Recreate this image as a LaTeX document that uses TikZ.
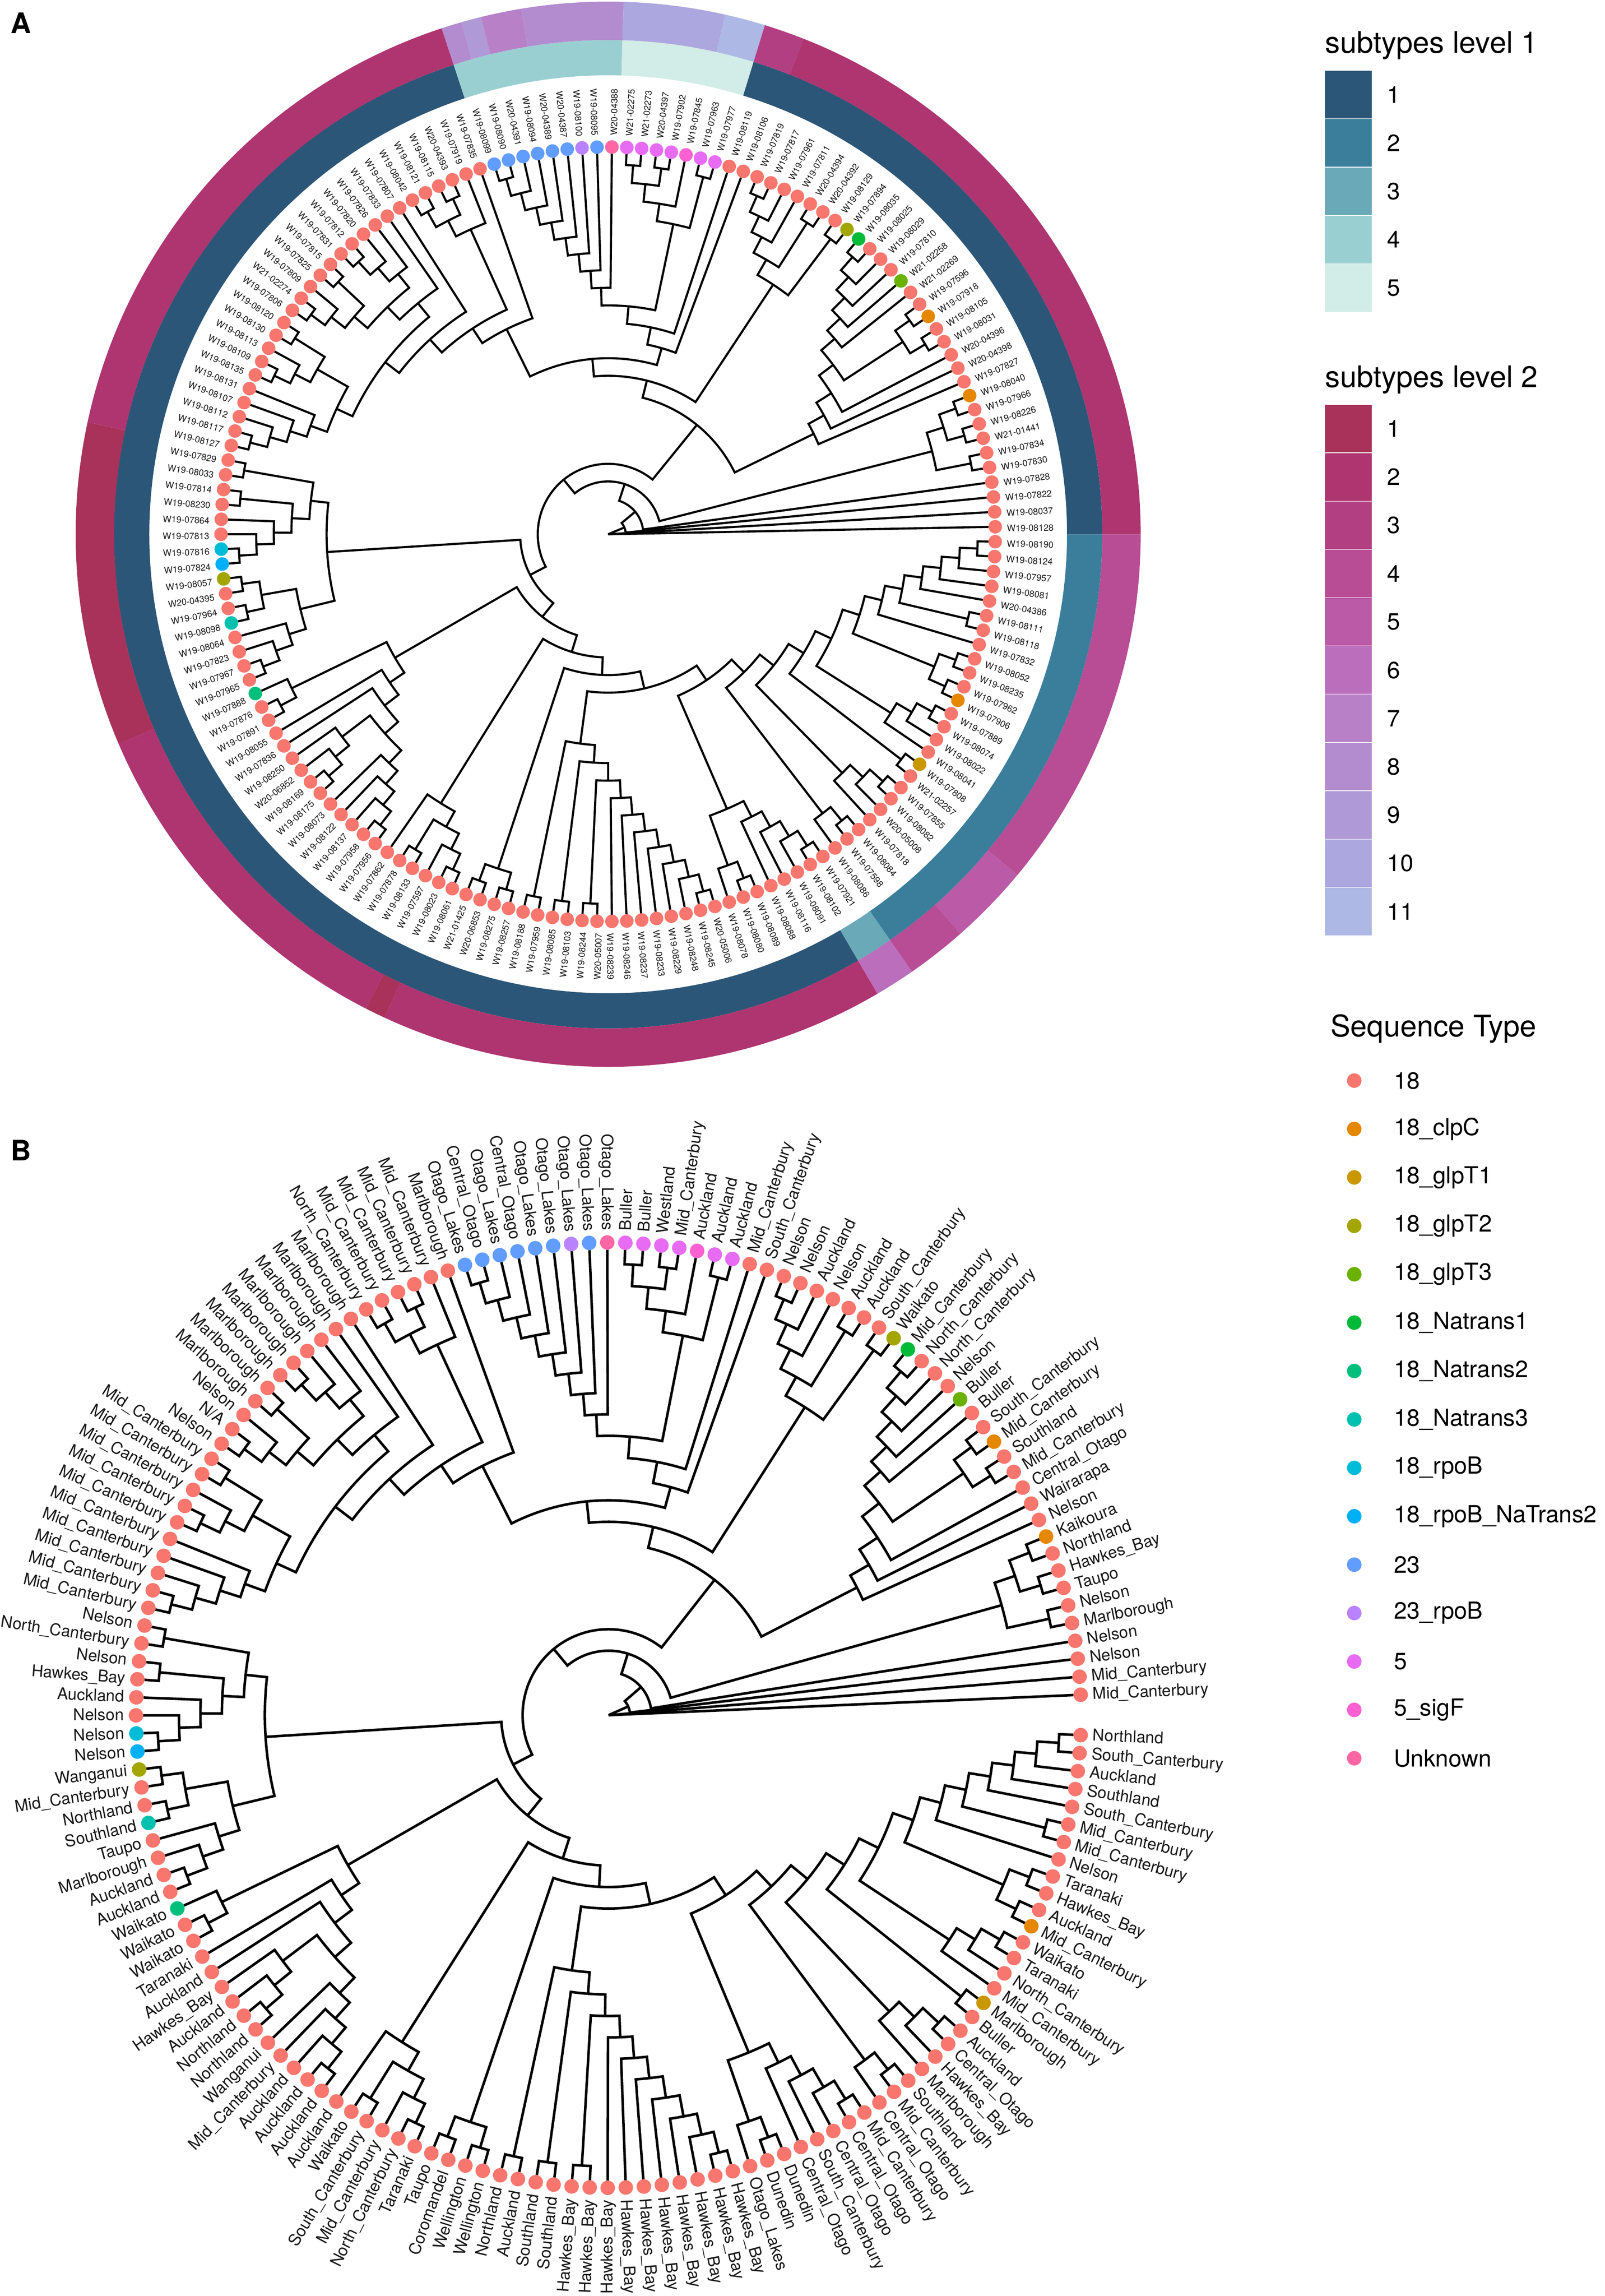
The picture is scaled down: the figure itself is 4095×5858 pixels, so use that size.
\documentclass[tikz,border=0pt]{standalone}
\usepackage{fontspec}
\setmainfont{TeX Gyre Heros}
\usetikzlibrary{positioning}
\pgfdeclarelayer{edges}
\pgfsetlayers{edges,main}

% sequence types
\definecolor{stA}{HTML}{F8766D}
\definecolor{stB}{HTML}{E58700}
\definecolor{stC}{HTML}{C99800}
\definecolor{stD}{HTML}{A3A500}
\definecolor{stE}{HTML}{6BB100}
\definecolor{stF}{HTML}{00BA38}
\definecolor{stG}{HTML}{00BF7D}
\definecolor{stH}{HTML}{00C0AF}
\definecolor{stI}{HTML}{00BCD8}
\definecolor{stJ}{HTML}{00B0F6}
\definecolor{stK}{HTML}{619CFF}
\definecolor{stL}{HTML}{B983FF}
\definecolor{stM}{HTML}{E76BF3}
\definecolor{stN}{HTML}{FD61D1}
\definecolor{stO}{HTML}{FF67A4}
% subtypes level 1
\definecolor{lone1}{HTML}{2C5677}
\definecolor{lone2}{HTML}{3B7E9B}
\definecolor{lone3}{HTML}{6AA9B8}
\definecolor{lone4}{HTML}{9ACFD1}
\definecolor{lone5}{HTML}{D2ECE7}
% subtypes level 2
\definecolor{ltwo1}{HTML}{A8325A}
\definecolor{ltwo2}{HTML}{AE3570}
\definecolor{ltwo3}{HTML}{B23F82}
\definecolor{ltwo4}{HTML}{B84C95}
\definecolor{ltwo5}{HTML}{BB5AA6}
\definecolor{ltwo6}{HTML}{BB6EBC}
\definecolor{ltwo7}{HTML}{B780C7}
\definecolor{ltwo8}{HTML}{B38CCF}
\definecolor{ltwo9}{HTML}{AF99D6}
\definecolor{ltwo10}{HTML}{ADA7DF}
\definecolor{ltwo11}{HTML}{ADB9E4}

\tikzstyle{branchA} = [draw=black, line width=1.08pt]
\tikzstyle{branchB} = [draw=black, line width=1.3pt]
\tikzstyle{tipdotA} = [circle, draw=none, inner sep=0pt, outer sep=0pt, minimum size=6.9pt]
\tikzstyle{tipdotB} = [circle, draw=none, inner sep=0pt, outer sep=0pt, minimum size=7.4pt]
\tikzstyle{tiplabA} = [inner sep=0pt, text=black!90, font=\fontsize{4.6}{5}\selectfont]
\tikzstyle{tiplabB} = [inner sep=0pt, text=black!90, font=\fontsize{8.3}{9}\selectfont]
\tikzstyle{legcell} = [rectangle, draw=white, line width=0.3pt, inner sep=0pt, outer sep=0pt,
    minimum width=24.2pt, minimum height=24.64pt]
\tikzstyle{legtitle} = [anchor=base west, inner sep=0pt, font=\fontsize{15.2}{17}\selectfont]
\tikzstyle{leglab} = [inner sep=0pt, font=\fontsize{12}{14}\selectfont]
\tikzstyle{panel} = [anchor=base west, inner sep=0pt, font=\fontsize{14.4}{16}\selectfont\bfseries]

% child a / child b of every inner node, going round the tips
\def\treeedges{n1/t1/t2, n2/n1/t3, n3/n2/t4, n4/n3/t5, n5/t6/t7, n6/n4/n5, n7/n6/t8,
  n8/t9/t10, n9/t11/t12, n10/n8/n9, n11/n7/n10, n12/t13/t14, n13/n12/t15, n14/n13/t16,
  n15/n11/n14, n16/t17/t18, n17/n15/n16, n18/t19/t20, n19/n18/t21, n20/n19/t22,
  n21/n17/n20, n22/t23/t24, n23/n22/t25, n24/n21/n23, n25/t26/t27, n26/n25/t28,
  n27/n26/t29, n28/n27/t30, n29/t31/t32, n30/n29/t33, n31/n28/n30, n32/n24/n31,
  n33/t34/t35, n34/n33/t36, n35/n34/t37, n36/n35/t38, n37/n36/t39, n38/n37/t40,
  n39/n38/t41, n40/t42/t43, n41/n39/n40, n42/t44/t45, n43/n41/n42, n44/t46/t47,
  n45/n43/n44, n46/n32/n45, n47/t48/t49, n48/t50/t51, n49/n47/n48, n50/n46/n49,
  n51/t52/t53, n52/n51/t54, n53/t55/t56, n54/n52/n53, n55/n54/t57, n56/n50/n55,
  n57/t58/t59, n58/n57/t60, n59/n58/t61, n60/n59/t62, n61/t63/t64, n62/n61/t65,
  n63/n62/t66, n64/n60/n63, n65/n64/t67, n66/n65/t68, n67/t69/t70, n68/n67/t71,
  n69/n66/n68, n70/n56/n69, n71/t72/t73, n72/n71/t74, n73/n72/t75, n74/t76/t77,
  n75/t78/t79, n76/n74/n75, n77/n73/n76, n78/t80/t81, n79/n78/t82, n80/n79/t83,
  n81/t84/t85, n82/n80/n81, n83/t86/t87, n84/n82/n83, n85/n77/n84, n86/n70/n85,
  n87/t88/t89, n88/n87/t90, n89/n88/t91, n90/n89/t92, n91/t93/t94, n92/n91/t95,
  n93/t96/t97, n94/n92/n93, n95/n90/n94, n96/t98/t99, n97/n96/t100, n98/t101/t102,
  n99/n97/n98, n100/t103/t104, n101/n100/t105, n102/n101/t106, n103/n99/n102,
  n104/n103/t107, n105/n95/n104, n106/n105/t108, n107/t109/t110, n108/t111/t112,
  n109/n107/n108, n110/n109/t113, n111/n106/n110, n112/n111/t114, n113/t115/t116,
  n114/n113/t117, n115/n114/t118, n116/n115/t119, n117/n116/t120, n118/n117/t121,
  n119/n118/t122, n120/n119/t123, n121/t124/t125, n122/t126/t127, n123/n121/n122,
  n124/n123/t128, n125/t129/t130, n126/n124/n125, n127/n120/n126, n128/n127/t131,
  n129/n128/t132, n130/n112/n129, n131/t133/t134, n132/n131/t135, n133/n132/t136,
  n134/t137/t138, n135/n133/n134, n136/t139/t140, n137/n135/n136, n138/n130/n137,
  n139/t141/t142, n140/n139/t143, n141/n140/t144, n142/n141/t145, n143/n142/t146,
  n144/t147/t148, n145/t149/t150, n146/n144/n145, n147/n143/n146, n148/n147/t151,
  n149/n148/t152, n150/n149/t153, n151/n138/n150, n152/n86/n151, n153/t154/t155,
  n154/t156/t157, n155/n153/n154, n156/t158/t159, n157/n155/n156, n158/n152/n157,
  n159/n158/t160, n160/n159/t161}

\def\labelsA{W19-08190,W19-08124,W19-07957,W19-08081,W20-04386,W19-08111,W19-08118,W19-07832,
  W19-08052,W19-08235,W19-07962,W19-07906,W19-07889,W19-08074,W19-08022,W19-08041,W19-07808,
  W21-02257,W19-07855,W19-08082,W20-05008,W19-07818,W19-08084,W19-07598,W19-08086,W19-07921,
  W19-08102,W19-08091,W19-08116,W19-08088,W19-08089,W19-08080,W19-08078,W20-05006,W19-08245,
  W19-08248,W19-08229,W19-08233,W19-08237,W19-08246,W19-08239,W20-05007,W19-08244,W19-08103,
  W19-08085,W19-07959,W19-08188,W19-08257,W19-08275,W20-06853,W21-01425,W19-08061,W19-08023,
  W19-07597,W19-08133,W19-07878,W19-07862,W19-07956,W19-07958,W19-08137,W19-08122,W19-08073,
  W19-08175,W19-08169,W20-06852,W19-08250,W19-07836,W19-08055,W19-07891,W19-07876,W19-07888,
  W19-07965,W19-07967,W19-07823,W19-08064,W19-08098,W19-07964,W20-04395,W19-08057,W19-07824,
  W19-07816,W19-07813,W19-07864,W19-08230,W19-07814,W19-08033,W19-07829,W19-08127,W19-08117,
  W19-08112,W19-08107,W19-08131,W19-08135,W19-08109,W19-08113,W19-08130,W19-08120,W19-07806,
  W21-02274,W19-07809,W19-07825,W19-07815,W19-07831,W19-07812,W19-07820,W19-07826,W19-07833,
  W19-07807,W19-08042,W19-08121,W19-08115,W20-04393,W19-07919,W19-07835,W19-08099,W19-08090,
  W20-04391,W19-08094,W20-04389,W20-04387,W19-08100,W19-08095,W20-04388,W21-02275,W21-02273,
  W20-04397,W19-07902,W19-07845,W19-07963,W19-07977,W19-08119,W19-08106,W19-07819,W19-07817,
  W19-07961,W19-07811,W20-04394,W20-04392,W19-08129,W19-07894,W19-08035,W19-08025,W19-08029,
  W19-07810,W21-02258,W21-02269,W19-07596,W19-07918,W19-08105,W19-08031,W20-04396,W20-04398,
  W19-07827,W19-08040,W19-07966,W19-08226,W21-01441,W19-07834,W19-07830,W19-07828,W19-07822,
  W19-08037,W19-08128}

\def\labelsB{Northland,South\_Canterbury,Auckland,Southland,South\_Canterbury,Mid\_Canterbury,
  Mid\_Canterbury,Nelson,Taranaki,Hawkes\_Bay,Auckland,Mid\_Canterbury,Waikato,Taranaki,
  North\_Canterbury,Mid\_Canterbury,Marlborough,Buller,Auckland,Central\_Otago,Hawkes\_Bay,
  Marlborough,Southland,Mid\_Canterbury,Central\_Otago,Mid\_Canterbury,Central\_Otago,
  Central\_Otago,South\_Canterbury,Central\_Otago,Dunedin,Dunedin,Otago\_Lakes,
  Hawkes\_Bay,Hawkes\_Bay,Hawkes\_Bay,Hawkes\_Bay,Hawkes\_Bay,Hawkes\_Bay,Hawkes\_Bay,
  Hawkes\_Bay,Hawkes\_Bay,Hawkes\_Bay,Southland,Southland,Auckland,Northland,Wellington,
  Wellington,Coromandel,Taupo,Taranaki,North\_Canterbury,Mid\_Canterbury,South\_Canterbury,
  Waikato,Auckland,Auckland,Auckland,Auckland,Mid\_Canterbury,Wanganui,Northland,Northland,
  Auckland,Hawkes\_Bay,Auckland,Taranaki,Waikato,Waikato,Waikato,Auckland,Auckland,
  Marlborough,Taupo,Southland,Northland,Mid\_Canterbury,Wanganui,Nelson,Nelson,Nelson,
  Auckland,Hawkes\_Bay,Nelson,North\_Canterbury,Nelson,Mid\_Canterbury,Mid\_Canterbury,
  Mid\_Canterbury,Mid\_Canterbury,Mid\_Canterbury,Mid\_Canterbury,Mid\_Canterbury,
  Mid\_Canterbury,Mid\_Canterbury,Mid\_Canterbury,Nelson,N/A,Nelson,Marlborough,Marlborough,
  Marlborough,Marlborough,Marlborough,Marlborough,Marlborough,Marlborough,North\_Canterbury,
  Mid\_Canterbury,Mid\_Canterbury,Mid\_Canterbury,Mid\_Canterbury,Marlborough,Otago\_Lakes,
  Central\_Otago,Otago\_Lakes,Central\_Otago,Otago\_Lakes,Otago\_Lakes,Otago\_Lakes,
  Otago\_Lakes,Otago\_Lakes,Buller,Buller,Westland,Mid\_Canterbury,Auckland,Auckland,Auckland,
  Mid\_Canterbury,South\_Canterbury,Nelson,Nelson,Auckland,Nelson,Auckland,Auckland,
  South\_Canterbury,Waikato,Mid\_Canterbury,North\_Canterbury,North\_Canterbury,Nelson,Buller,
  Buller,South\_Canterbury,Mid\_Canterbury,Southland,Mid\_Canterbury,Central\_Otago,Wairarapa,
  Nelson,Kaikoura,Northland,Hawkes\_Bay,Taupo,Nelson,Marlborough,Nelson,Nelson,
  Mid\_Canterbury,Mid\_Canterbury}

% tip position and height of every node
\foreach \i in {1,...,163}{
  \expandafter\xdef\csname py@t\i\endcsname{\i}
  \expandafter\xdef\csname ph@t\i\endcsname{0}
}
\foreach \n/\a/\b in \treeedges {
  \edef\ya{\csname py@\a\endcsname}\edef\yb{\csname py@\b\endcsname}
  \edef\ha{\csname ph@\a\endcsname}\edef\hb{\csname ph@\b\endcsname}
  \pgfmathsetmacro\ymid{(\ya+\yb)/2}
  \pgfmathtruncatemacro\hmid{max(\ha,\hb)+1}
  \expandafter\xdef\csname py@\n\endcsname{\ymid}
  \expandafter\xdef\csname ph@\n\endcsname{\hmid}
}
\foreach \i/\c in {12/stB,148/stB,154/stB,17/stC,79/stD,140/stD,145/stE,141/stF,71/stG,76/stH,
  81/stI,80/stJ,115/stK,116/stK,117/stK,118/stK,119/stK,120/stK,122/stK,121/stL,124/stM,125/stM,
  126/stM,127/stM,129/stM,130/stM,128/stN,123/stO}{
  \expandafter\xdef\csname tipcol\i\endcsname{\c}
}

% #1 panel, #2 #3 centre, #4 tip radius, #5 first angle, #6 angle step, #7 label radius
\newcommand{\fan}[7]{
  \begin{scope}[shift={(#2,-#3)}]
    \foreach \lab [count=\i] in \curlabels {
      \pgfmathsetmacro\tw{#5+(\i-1)*#6}
      \pgfmathtruncatemacro\rightside{(\tw<90||\tw>270)?1:0}
      \ifnum\rightside=1
        \pgfmathsetmacro\labrot{-\tw}\def\labanc{mid west}
      \else
        \pgfmathsetmacro\labrot{180-\tw}\def\labanc{mid east}
      \fi
      \ifcsname tipcol\i\endcsname
        \edef\col{\csname tipcol\i\endcsname}
      \else
        \def\col{stA}
      \fi
      \node [tipdot#1, fill=\col] (#1-t\i) at (-\tw:#4) {};
      \node [tiplab#1, rotate=\labrot, anchor=\labanc] (#1-lab\i) at (-\tw:#7) {\lab};
    }
    \begin{pgfonlayer}{edges}
      \foreach \n/\a/\b in \treeedges {
        \edef\ya{\csname py@\a\endcsname}\edef\yb{\csname py@\b\endcsname}
        \edef\ym{\csname py@\n\endcsname}\edef\hm{\csname ph@\n\endcsname}
        \pgfmathsetmacro\rad{#4*(1-\hm/22)}
        \pgfmathsetmacro\radpt{\rad*0.2}
        \pgfmathsetmacro\anga{-(#5+(\ya-1)*#6)}
        \pgfmathsetmacro\angb{-(#5+(\yb-1)*#6)}
        \pgfmathsetmacro\angm{-(#5+(\ym-1)*#6)}
        \coordinate (#1-\n) at (\angm:\rad);
        \draw [branch#1] (#1-\a) -- (\anga:\rad)
          arc [start angle=\anga, end angle=\angb, radius=\radpt pt] -- (#1-\b);
      }
      \coordinate (#1-root) at (0,0);
      \draw [branch#1] (#1-root) -- (#1-n160);
      \draw [branch#1] (#1-root) -- (#1-t162);
      \draw [branch#1] (#1-root) -- (#1-t163);
    \end{pgfonlayer}
  \end{scope}
}

\begin{document}
\begin{tikzpicture}[x=0.2pt, y=0.2pt]
    \useasboundingbox (0,0) rectangle (4095,-5858);

    % The two rings of panel A
    \begin{scope}[shift={(1552,-1363)}]
      \foreach \f/\t/\c in {1/25/lone2, 26/27/lone3, 28/114/lone1, 115/123/lone4,
          124/130/lone5, 131/163/lone1} {
        \pgfmathsetmacro\anga{-(\f-1)*2.20859}
        \pgfmathsetmacro\angb{-\t*2.20859}
        \fill [\c] (\anga:1171) arc [start angle=\anga, end angle=\angb, radius=234.2pt]
          -- (\angb:1261) arc [start angle=\angb, end angle=\anga, radius=252.2pt] -- cycle;
      }
      \foreach \f/\t/\c in {1/18/ltwo4, 19/22/ltwo5, 23/25/ltwo4, 26/27/ltwo6, 28/52/ltwo2,
          53/53/ltwo1, 54/71/ltwo2, 72/87/ltwo1, 88/114/ltwo2, 115/115/ltwo8, 116/116/ltwo9,
          117/118/ltwo7, 119/123/ltwo8, 124/128/ltwo10, 129/130/ltwo11, 131/132/ltwo3,
          133/163/ltwo2} {
        \pgfmathsetmacro\anga{-(\f-1)*2.20859}
        \pgfmathsetmacro\angb{-\t*2.20859}
        \fill [\c] (\anga:1261) arc [start angle=\anga, end angle=\angb, radius=252.2pt]
          -- (\angb:1359) arc [start angle=\angb, end angle=\anga, radius=271.8pt] -- cycle;
      }
    \end{scope}

    % Both trees share one topology
    \let\curlabels\labelsA
    \fan{A}{1552}{1363}{988}{1.1043}{2.20859}{1017}
    \let\curlabels\labelsB
    \fan{B}{1553}{4376}{1206}{2.42}{2.192}{1236}

    \node [panel] (panela) at (26,-85) {A};
    \node [panel] (panelb) at (26,-2961) {B};

    % Legend for level 1
    \node [legtitle] (titleone) at (3381,-135) {subtypes level 1};
    \node [legcell, fill=lone1, anchor=north west] (cellone1) at (3381,-180) {};
    \node [leglab, right=7.5pt of cellone1] (labone1) {1};
    \foreach \i [remember=\i as \prev (initially 1)] in {2,...,5} {
      \node [legcell, fill=lone\i, below=0pt of cellone\prev] (cellone\i) {};
      \node [leglab, right=7.5pt of cellone\i] (labone\i) {\i};
    }

    % Legend for level 2
    \node [legtitle] (titletwo) at (3381,-988) {subtypes level 2};
    \node [legcell, fill=ltwo1, anchor=north west] (celltwo1) at (3381,-1032) {};
    \node [leglab, right=7.5pt of celltwo1] (labtwo1) {1};
    \foreach \i [remember=\i as \prev (initially 1)] in {2,...,11} {
      \node [legcell, fill=ltwo\i, below=0pt of celltwo\prev] (celltwo\i) {};
      \node [leglab, right=7.5pt of celltwo\i] (labtwo\i) {\i};
    }

    % Legend for the sequence types
    \node [legtitle] (titleseq) at (3395,-2645) {Sequence Type};
    \foreach \c/\lab [count=\i] in {stA/18, stB/18\_clpC, stC/18\_glpT1, stD/18\_glpT2,
        stE/18\_glpT3, stF/18\_Natrans1, stG/18\_Natrans2, stH/18\_Natrans3, stI/18\_rpoB,
        stJ/18\_rpoB\_NaTrans2, stK/23, stL/23\_rpoB, stM/5, stN/5\_sigF, stO/Unknown} {
      \node [tipdotB, fill=\c] (seqdot\i) at (3456,{-2757-(\i-1)*123.5}) {};
      \node [leglab, anchor=west] (seqlab\i) at (3556,{-2757-(\i-1)*123.5}) {\lab};
    }
\end{tikzpicture}
\end{document}
